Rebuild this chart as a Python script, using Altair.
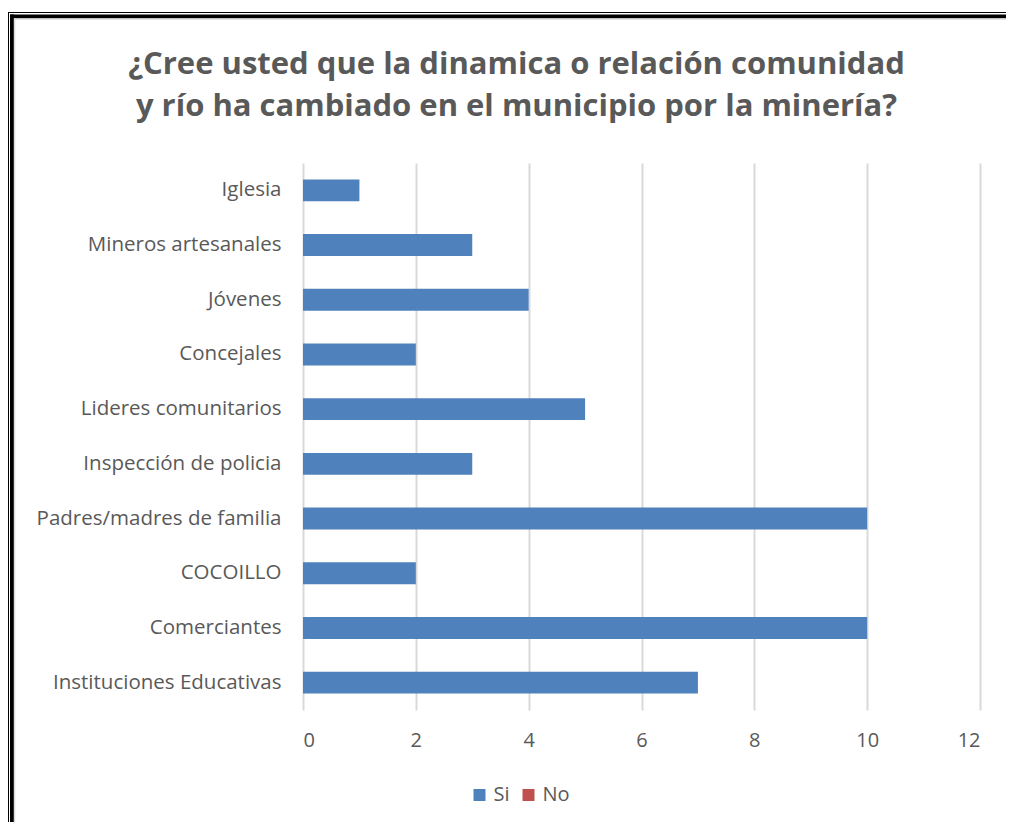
import altair as alt
import pandas as pd

categories = [
    "Iglesia",
    "Mineros artesanales",
    "Jóvenes",
    "Concejales",
    "Lideres comunitarios",
    "Inspección de policia",
    "Padres/madres de familia",
    "COCOILLO",
    "Comerciantes",
    "Instituciones Educativas",
]
si_values = [1, 3, 4, 2, 5, 3, 10, 2, 10, 7]
series = ["Si", "No"]
series_colors = ["#4f81bd", "#c0504d"]
x_ticks = [0, 2, 4, 6, 8, 10, 12]
title_lines = [
    "¿Cree usted que la dinamica o relación comunidad",
    "y río ha cambiado en el municipio por la minería?",
]

FONT = "Open Sans"
TXT = "#595959"
W, H = 677, 547

df = pd.DataFrame({"categoria": categories, "valor": si_values, "serie": ["Si"] * len(categories)})
one = pd.DataFrame({"k": [0]})

bars = alt.Chart(df).mark_bar().encode(
    y=alt.Y(
        "categoria:N",
        sort=categories,
        scale=alt.Scale(paddingInner=0.6, paddingOuter=0.3),
        axis=alt.Axis(
            title=None, ticks=False, domain=False, labelFont=FONT, labelFontSize=20.5,
            labelColor=TXT, labelPadding=22, grid=False, labelLimit=0,
        ),
    ),
    x=alt.X(
        "valor:Q",
        scale=alt.Scale(domain=[0, 12], nice=False),
        axis=alt.Axis(
            title=None, values=x_ticks, ticks=False, domain=False, grid=True,
            gridColor="#d9d9d9", gridWidth=2, labelFont=FONT, labelFontSize=20,
            labelColor=TXT, labelPadding=20,
        ),
    ),
    color=alt.Color(
        "serie:N",
        scale=alt.Scale(domain=series, range=series_colors),
        legend=alt.Legend(
            title=None, orient="none", direction="horizontal", legendX=166.5, legendY=622,
            symbolType="square", symbolSize=144, symbolStrokeWidth=0, labelFont=FONT,
            labelFontSize=20, labelColor=TXT, labelOffset=4, columnPadding=8, padding=0,
        ),
    ),
)

title = alt.Chart(one).mark_text(
    font=FONT, fontSize=31, fontWeight="bold", color=TXT, align="center",
    baseline="alphabetic", lineHeight=42,
).encode(x=alt.value(213.5), y=alt.value(-89), text=alt.value(title_lines))

def hrule(y, x1, x2, w, c):
    return alt.Chart(one).mark_rule(strokeWidth=w, color=c).encode(
        x=alt.value(x1), x2=alt.value(x2), y=alt.value(y))

def vrule(x, y1, y2, w, c):
    return alt.Chart(one).mark_rule(strokeWidth=w, color=c).encode(
        x=alt.value(x), y=alt.value(y1), y2=alt.value(y2))

frame = [
    hrule(-150.5, -295, 720, 1, "#000000"),
    hrule(-146.5, -293, 720, 4, "#000000"),
    hrule(-144, -289, 720, 1.5, "#d9d9d9"),
    vrule(-294.5, -151, 680, 1, "#000000"),
    vrule(-291, -148.5, 680, 4, "#000000"),
    vrule(-288.5, -144.5, 680, 1.5, "#d9d9d9"),
]

chart = alt.layer(bars, title, *frame).properties(
    width=W, height=H,
    autosize=alt.AutoSizeParams(type="none"),
    padding={"left": 295, "top": 155, "right": 26, "bottom": 112},
    background="white",
).configure_view(stroke=None)

chart.save("out.html", embed_options={"renderer": "svg", "actions": False})
